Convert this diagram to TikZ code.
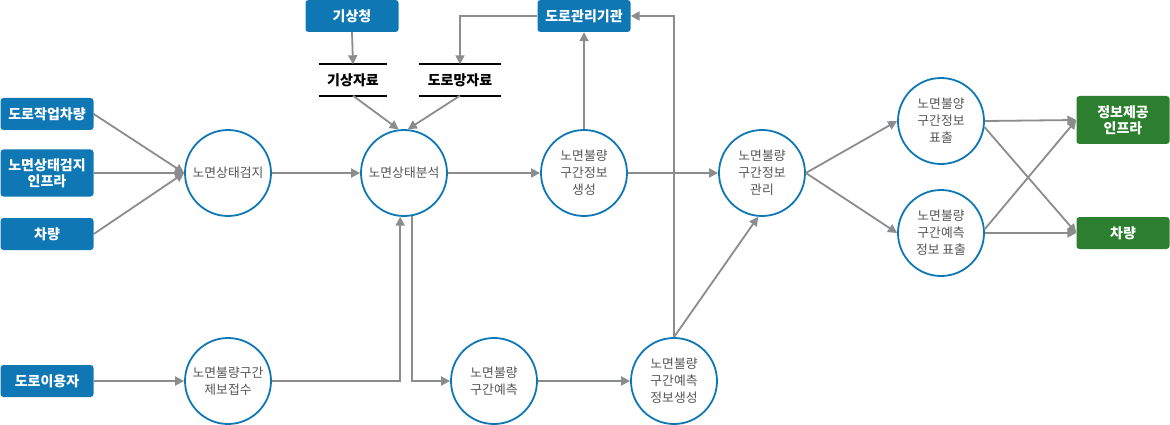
\documentclass[tikz,border=0pt]{standalone}
\usepackage{fontspec}
\setmainfont{Noto Sans CJK KR}
\usetikzlibrary{arrows.meta}
\definecolor{blu}{HTML}{0F78B4}
\definecolor{verde}{HTML}{2B7F2E}
\definecolor{grigio}{HTML}{8A8C8E}
\definecolor{testo}{HTML}{555555}

\begin{document}
\begin{tikzpicture}[
    x=1pt,y=-1pt,
    freccia/.style={draw=grigio,line width=1.8pt,-{Triangle[length=9pt,width=9pt]}},
    fonte/.style={rectangle,rounded corners=3pt,fill=blu,text=white,inner sep=0pt,
      minimum width=93pt,minimum height=32pt,align=center,
      font=\fontsize{14}{16}\selectfont\bfseries},
    uscita/.style={fonte,fill=verde},
    processo/.style={circle,draw=blu,line width=1.8pt,minimum size=86pt,inner sep=0pt,
      text=testo,align=center,font=\fontsize{12.8}{17}\selectfont},
    archivio/.style={inner sep=0pt,minimum height=31pt,
      font=\fontsize{14}{16}\selectfont\bfseries}]

  \path[fill=white] (0,0) rectangle (1170,425);

  % ---- sorgenti --------------------------------------------------------
  \node[fonte] (lavori)  at (47,114) {도로작업차량};
  \node[fonte,minimum height=47pt] (infra) at (47,173) {노면상태검지\\인프라};
  \node[fonte] (veicolo) at (47,234) {차량};
  \node[fonte] (utente)  at (47,381) {도로이용자};
  \node[fonte] (meteo)   at (352,16) {기상청};
  \node[fonte] (gestore) at (584,16) {도로관리기관};

  % ---- archivi ---------------------------------------------------------
  \node[archivio,minimum width=68pt] (dmeteo) at (353,80) {기상자료};
  \node[archivio,minimum width=81pt] (drete)  at (460,80) {도로망자료};
  \foreach \a in {dmeteo,drete} {
    \draw[line width=1.8pt] (\a.north west) -- (\a.north east);
    \draw[line width=1.8pt] (\a.south west) -- (\a.south east);
  }

  % ---- processi --------------------------------------------------------
  \node[processo] (rilevo)     at (228,173) {노면상태검지};
  \node[processo] (analisi)    at (404,173) {노면상태분석};
  \node[processo] (genera)     at (584,173) {노면불량\\구간정보\\생성};
  \node[processo] (gestione)   at (762,173) {노면불량\\구간정보\\관리};
  \node[processo] (segnala)    at (228,381) {노면불량구간\\제보접수};
  \node[processo] (previsione) at (494,381) {노면불량\\구간예측};
  \node[processo] (prevgen)    at (674,381) {노면불량\\구간예측\\정보생성};
  \node[processo] (mostra)     at (941,121) {노면불양\\구간정보\\표출};
  \node[processo] (mostraprev) at (941,233) {노면불량\\구간예측\\정보 표출};

  % ---- destinazioni ----------------------------------------------------
  \node[uscita,minimum height=48pt] (infout) at (1123,120) {정보제공\\인프라};
  \node[uscita] (veicout) at (1123,233) {차량};

  % ---- frecce ----------------------------------------------------------
  \foreach \s in {lavori,infra,veicolo}
    \draw[freccia] (\s.east) -- (rilevo.west);
  \draw[freccia] (utente.east) -- (segnala.west);
  \draw[freccia] (rilevo.east) -- (analisi.west);

  % (a) dati esterni verso l'analisi
  \draw[freccia] (meteo.south) -- (dmeteo.north);
  \draw[freccia] (gestore.west) -| (drete.north);
  \draw[freccia] (dmeteo.south) -- (analisi.97);
  \draw[freccia] (drete.south) -- (analisi.85);

  % (b) ramo superiore
  \draw[freccia] (analisi.east) -- (genera.west);
  \draw[freccia] (genera.north) -- (gestore.south);
  \draw[freccia] (genera.east) -- (gestione.west);

  % (c) ramo inferiore
  \draw[freccia] (segnala.east) -| (analisi.265);
  \draw[freccia] (analisi.280) |- (previsione.west);
  \draw[freccia] (previsione.east) -- (prevgen.west);
  \draw[freccia] (prevgen.north) |- (gestore.east);
  \draw[freccia] (prevgen.north) -- (gestione.265);

  % (d) uscite
  \draw[freccia] (gestione.east) -- (mostra.west);
  \draw[freccia] (gestione.east) -- (mostraprev.west);
  \draw[freccia] (mostra.east) -- (infout.west);
  \draw[freccia] (mostra.-8) -- (veicout.west);
  \draw[freccia] (mostraprev.5) -- (infout.west);
  \draw[freccia] (mostraprev.east) -- (veicout.west);

\end{tikzpicture}
\end{document}
